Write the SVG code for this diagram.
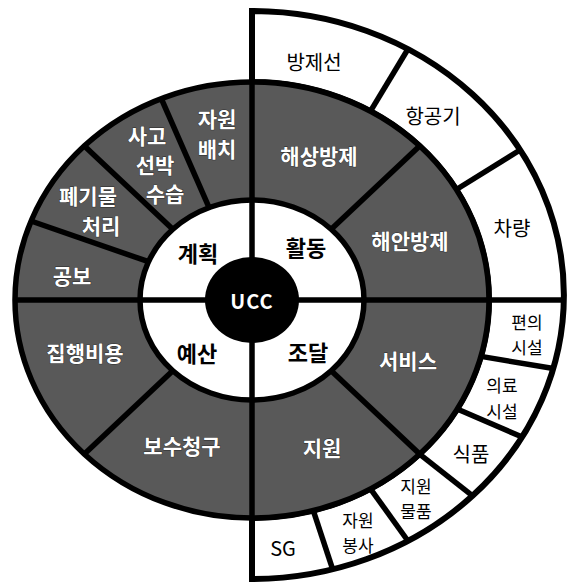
<svg xmlns="http://www.w3.org/2000/svg" width="573" height="583" viewBox="0 0 573 583">
<style>
.ln{stroke:#000;stroke-width:5.5;fill:none;stroke-linecap:butt}
.t{font-family:"Noto Sans CJK KR","Noto Sans",sans-serif;text-anchor:middle;dominant-baseline:central}
.dk{fill:#fff;font-weight:700;font-size:21px;stroke:#2a2a2a;stroke-width:0.8px;paint-order:stroke}
.in{fill:#000;font-weight:700;font-size:22px}
.out{fill:#000;font-weight:400;font-size:20px}
.sm{fill:#000;font-weight:400;font-size:17px}
</style>
<rect width="573" height="583" fill="#fff"/>
<g id="rings">
  <path id="outer-ring" d="M252,11 A312,284 0 0 1 252,579 L252,518 A237,218 0 0 0 252,82 Z" fill="#fff" stroke="#000" stroke-width="6"/>
  <ellipse id="dark-ring" cx="252" cy="300" rx="237" ry="218" fill="#595959" stroke="#000" stroke-width="5.5"/>
  <ellipse id="white-ring" cx="252" cy="300" rx="112" ry="100" fill="#fff" stroke="#000" stroke-width="5.5"/>
</g>
<g id="connectors">
  <line class="ln" x1="252" y1="11" x2="252" y2="579" stroke-width="6"/>
  <line class="ln" x1="15" y1="300" x2="564" y2="300"/>
  <line class="ln" x1="331.2" y1="229.3" x2="419.6" y2="145.9"/>
  <line class="ln" x1="209.1" y1="207.6" x2="161.3" y2="98.6"/>
  <line class="ln" x1="172.8" y1="229.3" x2="84.4" y2="145.9"/>
  <line class="ln" x1="148.5" y1="261.7" x2="31" y2="221"/>
  <line class="ln" x1="172.8" y1="370.7" x2="84.4" y2="454.1"/>
  <line class="ln" x1="331.2" y1="370.7" x2="419.6" y2="454.1"/>
  <line class="ln" x1="370.5" y1="111.2" x2="408" y2="49"/>
  <line class="ln" x1="457.2" y1="189" x2="520" y2="150"/>
  <line class="ln" x1="480.9" y1="356.4" x2="553.4" y2="368.5"/>
  <line class="ln" x1="457.2" y1="409" x2="522.2" y2="437"/>
  <line class="ln" x1="419.6" y1="454.1" x2="472.6" y2="495.8"/>
  <line class="ln" x1="370.5" y1="488.8" x2="408" y2="541"/>
  <line class="ln" x1="313.3" y1="510.6" x2="332.7" y2="569.3"/>
</g>
<g id="UCC">
  <ellipse cx="252" cy="300" rx="47" ry="43" fill="#000"/>
  <text class="t" x="252" y="300" fill="#fff" font-weight="700" font-size="20" letter-spacing="1">UCC</text>
</g>
<g id="inner-labels">
  <g id="plan"><text class="t in" x="198" y="252">계획</text></g>
  <g id="activity"><text class="t in" x="306" y="246">활동</text></g>
  <g id="budget"><text class="t in" x="197" y="352">예산</text></g>
  <g id="procure"><text class="t in" x="308" y="351">조달</text></g>
</g>
<g id="dark-labels">
  <g id="resource-deploy"><text class="t dk" x="217" y="118">자원</text><text class="t dk" x="217" y="148">배치</text></g>
  <g id="accident"><text class="t dk" x="147" y="135">사고</text><text class="t dk" x="155" y="164">선박</text><text class="t dk" x="165" y="193">수습</text></g>
  <g id="waste"><text class="t dk" x="88" y="195">폐기물</text><text class="t dk" x="101" y="225">처리</text></g>
  <g id="pr"><text class="t dk" x="72" y="275">공보</text></g>
  <g id="exec-cost"><text class="t dk" x="85" y="352" font-size="23">집행비용</text></g>
  <g id="claim"><text class="t dk" x="182" y="445" font-size="23">보수청구</text></g>
  <g id="sea-response"><text class="t dk" x="319" y="155" font-size="22">해상방제</text></g>
  <g id="coast-response"><text class="t dk" x="410" y="240" font-size="22">해안방제</text></g>
  <g id="service"><text class="t dk" x="408" y="360">서비스</text></g>
  <g id="support"><text class="t dk" x="322" y="447">지원</text></g>
</g>
<g id="outer-labels">
  <g id="boat"><text class="t out" x="314" y="61">방제선</text></g>
  <g id="aircraft"><text class="t out" x="433" y="115">항공기</text></g>
  <g id="vehicle"><text class="t out" x="512" y="227">차량</text></g>
  <g id="amenity"><text class="t sm" x="527" y="321">편의</text><text class="t sm" x="527" y="346">시설</text></g>
  <g id="medical"><text class="t sm" x="502" y="384">의료</text><text class="t sm" x="502" y="410">시설</text></g>
  <g id="food"><text class="t out" x="471" y="453">식품</text></g>
  <g id="supplies"><text class="t sm" x="416" y="485">지원</text><text class="t sm" x="416" y="510">물품</text></g>
  <g id="volunteer"><text class="t sm" x="358" y="519">자원</text><text class="t sm" x="358" y="544">봉사</text></g>
  <g id="sg"><text class="t out" x="283" y="547">SG</text></g>
</g>
</svg>
